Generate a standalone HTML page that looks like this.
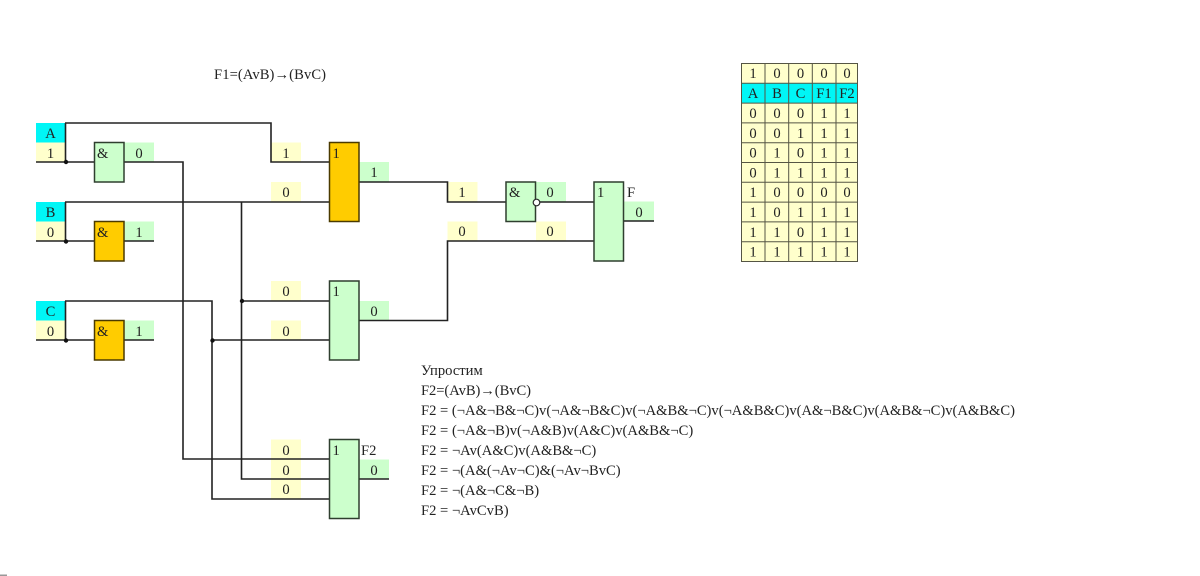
<!DOCTYPE html>
<html>
<head>
<meta charset="utf-8">
<style>
html,body{margin:0;padding:0;background:#fff;width:1200px;height:576px;overflow:hidden}
svg{display:block;filter:blur(0.35px)}
text{font-family:"Liberation Serif",serif;font-size:14.6px;fill:#222}
.c{text-anchor:middle}
.w{fill:none;stroke:#222;stroke-width:1.6}
.g{fill:#ccffcc;stroke:#2f3f2f;stroke-width:1.5}
.o{fill:#ffcc00;stroke:#4a3a00;stroke-width:1.5}
.y{fill:#ffffcc}
.l{fill:#ccffcc}
.a{fill:#00f6f6}
.t{fill:none;stroke:#555544;stroke-width:1}
</style>
</head>
<body>
<svg width="1200" height="576" viewBox="0 0 1200 576" xmlns="http://www.w3.org/2000/svg">
<!-- bottom-left artefact -->
<rect x="0" y="574.5" width="7" height="1.5" fill="#999"/>

<!-- input cells -->
<rect class="a" x="36" y="123" width="29" height="19.5"/>
<rect class="y" x="36" y="142.5" width="29" height="19.5"/>
<rect class="a" x="36" y="202" width="29" height="19.5"/>
<rect class="y" x="36" y="221.5" width="29" height="19.5"/>
<rect class="a" x="36" y="301" width="29" height="19.5"/>
<rect class="y" x="36" y="320.5" width="29" height="19.5"/>

<!-- yellow labels -->
<rect class="y" x="271" y="142.5" width="30" height="19.5"/>
<rect class="y" x="271" y="182" width="30" height="19.5"/>
<rect class="y" x="271" y="281" width="30" height="19.5"/>
<rect class="y" x="271" y="320.5" width="30" height="19.5"/>
<rect class="y" x="271" y="439.5" width="30" height="59.5"/>
<rect class="y" x="447.5" y="182" width="30" height="19.5"/>
<rect class="y" x="447.5" y="221.5" width="30" height="19.5"/>
<rect class="y" x="536" y="221.5" width="30" height="19.5"/>

<!-- green labels -->
<rect class="l" x="124" y="142.5" width="30" height="19.5"/>
<rect class="l" x="124" y="221.5" width="30" height="19.5"/>
<rect class="l" x="124" y="320.5" width="30" height="19.5"/>
<rect class="l" x="359" y="162" width="30" height="20"/>
<rect class="l" x="359" y="301" width="30" height="19.5"/>
<rect class="l" x="359" y="459.5" width="30" height="19.5"/>
<rect class="l" x="536" y="182" width="30" height="19.5"/>
<rect class="l" x="624" y="201.5" width="30" height="19.5"/>

<!-- wires -->
<path class="w" d="M36 162H94M36 241H94M36 340H94"/>
<path class="w" d="M65.500 123V162M65.500 202V241M65.500 301V340"/>
<path class="w" d="M65 123H271V162H329"/>
<path class="w" d="M65 202H329"/>
<path class="w" d="M124 162H183V459H329"/>
<path class="w" d="M124 241H154M124 340H154"/>
<path class="w" d="M241.500 202V479H329"/>
<path class="w" d="M241.500 301H329"/>
<path class="w" d="M65 301H212V499H329"/>
<path class="w" d="M212 340H329"/>
<path class="w" d="M359 182H447.500V202H506"/>
<path class="w" d="M359 320.500H447.500V241H594"/>
<path class="w" d="M536 202H594"/>
<path class="w" d="M624 221H654"/>
<path class="w" d="M359 479H389"/>

<!-- junction dots -->
<circle cx="66" cy="162" r="2.200" fill="#111"/>
<circle cx="66" cy="241.500" r="2.200" fill="#111"/>
<circle cx="66" cy="340.500" r="2.200" fill="#111"/>
<circle cx="242" cy="301" r="2.200" fill="#111"/>
<circle cx="212.500" cy="340.500" r="2.200" fill="#111"/>

<!-- gates -->
<rect class="g" x="94.500" y="142.500" width="29.500" height="39.500"/>
<rect class="o" x="94.500" y="221.500" width="29.500" height="39.500"/>
<rect class="o" x="94.500" y="320.500" width="29.500" height="39.500"/>
<rect class="o" x="329.500" y="142.500" width="29.500" height="79"/>
<rect class="g" x="329.500" y="281" width="29.500" height="79"/>
<rect class="g" x="329.500" y="439.500" width="29.500" height="79"/>
<rect class="g" x="506" y="182" width="29.500" height="39.500"/>
<rect class="g" x="594" y="182" width="29.500" height="79"/>
<circle cx="536.500" cy="202.500" r="3.300" fill="#fff" stroke="#2a2a2a" stroke-width="1.200"/>

<!-- input text -->
<text class="c" x="50.500" y="138">A</text>
<text class="c" x="50.500" y="158">1</text>
<text class="c" x="50.500" y="217">B</text>
<text class="c" x="50.500" y="237">0</text>
<text class="c" x="50.500" y="316">C</text>
<text class="c" x="50.500" y="336">0</text>

<!-- gate text -->
<text x="97" y="158">&amp;</text>
<text x="97" y="237">&amp;</text>
<text x="97" y="336">&amp;</text>
<text x="509" y="197">&amp;</text>
<text x="332.500" y="158">1</text>
<text x="332.500" y="296">1</text>
<text x="332.500" y="455">1</text>
<text x="597" y="197">1</text>
<text x="627" y="197">F</text>
<text x="361" y="455">F2</text>

<!-- values -->
<text class="c" x="139" y="158">0</text>
<text class="c" x="139" y="237">1</text>
<text class="c" x="139" y="336">1</text>
<text class="c" x="286" y="158">1</text>
<text class="c" x="286" y="197">0</text>
<text class="c" x="286" y="296">0</text>
<text class="c" x="286" y="336">0</text>
<text class="c" x="286" y="455">0</text>
<text class="c" x="286" y="475">0</text>
<text class="c" x="286" y="494">0</text>
<text class="c" x="374" y="177">1</text>
<text class="c" x="374" y="316">0</text>
<text class="c" x="374" y="475">0</text>
<text class="c" x="462" y="197">1</text>
<text class="c" x="462" y="236">0</text>
<text class="c" x="550" y="197">0</text>
<text class="c" x="550" y="236">0</text>
<text class="c" x="639" y="217">0</text>

<!-- formulas -->
<text x="214" y="79" textLength="112">F1=(AvB)→(BvC)</text>
<text x="421" y="375">Упростим</text>
<text x="421" y="395" textLength="110">F2=(AvB)→(BvC)</text>
<text x="421" y="415" textLength="594">F2 = (¬A&amp;¬B&amp;¬C)v(¬A&amp;¬B&amp;C)v(¬A&amp;B&amp;¬C)v(¬A&amp;B&amp;C)v(A&amp;¬B&amp;C)v(A&amp;B&amp;¬C)v(A&amp;B&amp;C)</text>
<text x="421" y="435">F2 = (¬A&amp;¬B)v(¬A&amp;B)v(A&amp;C)v(A&amp;B&amp;¬C)</text>
<text x="421" y="455">F2 = ¬Av(A&amp;C)v(A&amp;B&amp;¬C)</text>
<text x="421" y="475">F2 = ¬(A&amp;(¬Av¬C)&amp;(¬Av¬BvC)</text>
<text x="421" y="495">F2 = ¬(A&amp;¬C&amp;¬B)</text>
<text x="421" y="515">F2 = ¬AvCvB)</text>

<!-- truth table -->
<rect class="y" x="741" y="63.500" width="117" height="198"/>
<rect class="a" x="741" y="83.300" width="117" height="19.800"/>
<path class="t" d="M741.500 63.500H857.500V261.500H741.500ZM741.500 83.300H857.500M741.500 103.100H857.500M741.500 122.900H857.500M741.500 142.700H857.500M741.500 162.500H857.500M741.500 182.300H857.500M741.500 202.100H857.500M741.500 221.900H857.500M741.500 241.700H857.500M765 63.500V261.500M788.700 63.500V261.500M812.300 63.500V261.500M836 63.500V261.500"/>

<text class="c" x="753" y="78">1</text><text class="c" x="777" y="78">0</text><text class="c" x="800.500" y="78">0</text><text class="c" x="824" y="78">0</text><text class="c" x="847" y="78">0</text>
<text class="c" x="753" y="98">A</text><text class="c" x="777" y="98">B</text><text class="c" x="800.500" y="98">C</text><text class="c" x="824" y="98">F1</text><text class="c" x="847" y="98">F2</text>
<text class="c" x="753" y="118">0</text><text class="c" x="777" y="118">0</text><text class="c" x="800.500" y="118">0</text><text class="c" x="824" y="118">1</text><text class="c" x="847" y="118">1</text>
<text class="c" x="753" y="138">0</text><text class="c" x="777" y="138">0</text><text class="c" x="800.500" y="138">1</text><text class="c" x="824" y="138">1</text><text class="c" x="847" y="138">1</text>
<text class="c" x="753" y="157.500">0</text><text class="c" x="777" y="157.500">1</text><text class="c" x="800.500" y="157.500">0</text><text class="c" x="824" y="157.500">1</text><text class="c" x="847" y="157.500">1</text>
<text class="c" x="753" y="177.500">0</text><text class="c" x="777" y="177.500">1</text><text class="c" x="800.500" y="177.500">1</text><text class="c" x="824" y="177.500">1</text><text class="c" x="847" y="177.500">1</text>
<text class="c" x="753" y="197">1</text><text class="c" x="777" y="197">0</text><text class="c" x="800.500" y="197">0</text><text class="c" x="824" y="197">0</text><text class="c" x="847" y="197">0</text>
<text class="c" x="753" y="217">1</text><text class="c" x="777" y="217">0</text><text class="c" x="800.500" y="217">1</text><text class="c" x="824" y="217">1</text><text class="c" x="847" y="217">1</text>
<text class="c" x="753" y="237">1</text><text class="c" x="777" y="237">1</text><text class="c" x="800.500" y="237">0</text><text class="c" x="824" y="237">1</text><text class="c" x="847" y="237">1</text>
<text class="c" x="753" y="256.500">1</text><text class="c" x="777" y="256.500">1</text><text class="c" x="800.500" y="256.500">1</text><text class="c" x="824" y="256.500">1</text><text class="c" x="847" y="256.500">1</text>
</svg>
</body>
</html>
